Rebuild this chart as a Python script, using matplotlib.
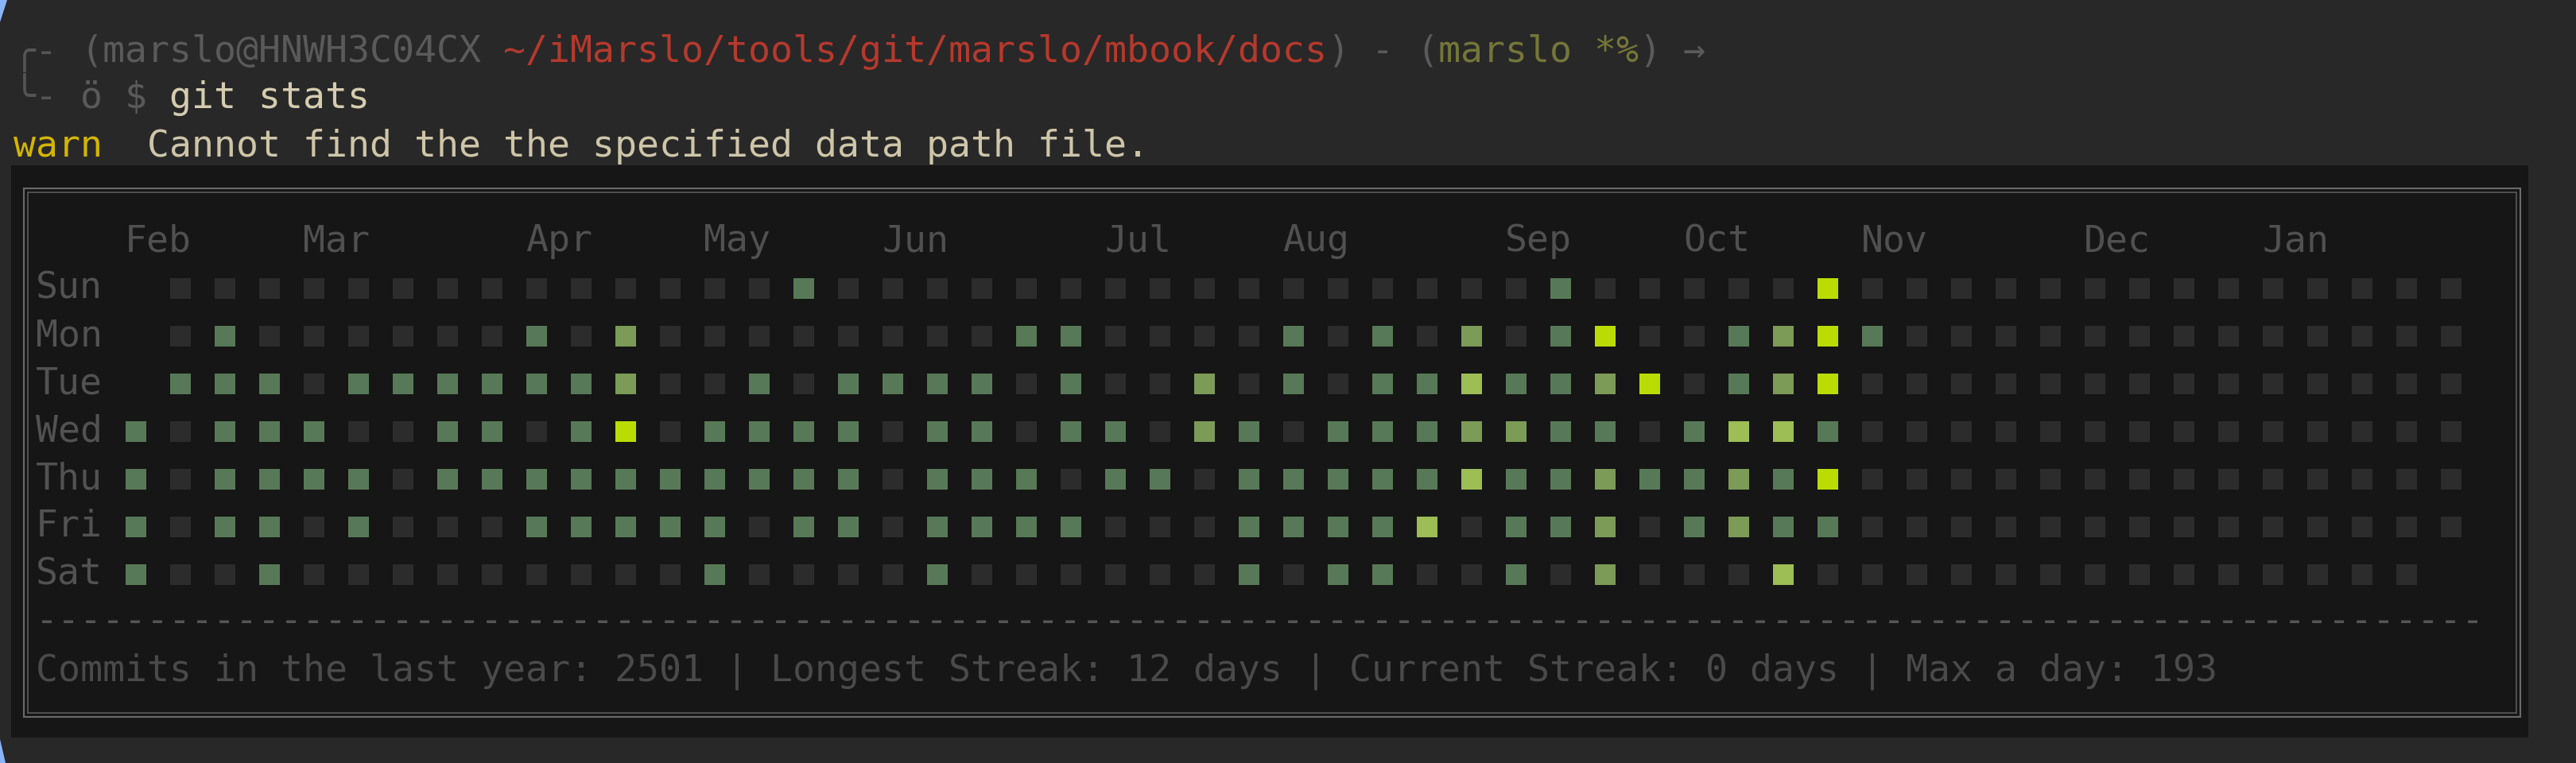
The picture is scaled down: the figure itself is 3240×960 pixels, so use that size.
import matplotlib.pyplot as plt
from matplotlib.patches import Rectangle, Polygon

# =========================
# 1. Datos: nivel de commits por semana (-1 = sin celda)
# =========================
weekdays = ['Sun', 'Mon', 'Tue', 'Wed', 'Thu', 'Fri', 'Sat']
months = ['Feb', 'Mar', 'Apr', 'May', 'Jun', 'Jul', 'Aug', 'Sep', 'Oct', 'Nov', 'Dec', 'Jan']
month_cols = [0, 4, 9, 13, 17, 22, 26, 31, 35, 39, 44, 48]

sun = [-1, 0, 0, 0, 0, 0, 0, 0, 0, 0, 0, 0, 0, 0, 0, 1, 0, 0, 0, 0, 0, 0, 0, 0, 0, 0,
       0, 0, 0, 0, 0, 0, 1, 0, 0, 0, 0, 0, 4, 0, 0, 0, 0, 0, 0, 0, 0, 0, 0, 0, 0, 0, 0]
mon = [-1, 0, 1, 0, 0, 0, 0, 0, 0, 1, 0, 2, 0, 0, 0, 0, 0, 0, 0, 0, 1, 1, 0, 0, 0, 0,
       1, 0, 1, 0, 2, 0, 1, 4, 0, 0, 1, 2, 4, 1, 0, 0, 0, 0, 0, 0, 0, 0, 0, 0, 0, 0, 0]
tue = [-1, 1, 1, 1, 0, 1, 1, 1, 1, 1, 1, 2, 0, 0, 1, 0, 1, 1, 1, 1, 0, 1, 0, 0, 2, 0,
       1, 0, 1, 1, 3, 1, 1, 2, 4, 0, 1, 2, 4, 0, 0, 0, 0, 0, 0, 0, 0, 0, 0, 0, 0, 0, 0]
wed = [1, 0, 1, 1, 1, 0, 0, 1, 1, 0, 1, 4, 0, 1, 1, 1, 1, 0, 1, 1, 0, 1, 1, 0, 2, 1,
       0, 1, 1, 1, 2, 2, 1, 1, 0, 1, 3, 3, 1, 0, 0, 0, 0, 0, 0, 0, 0, 0, 0, 0, 0, 0, 0]
thu = [1, 0, 1, 1, 1, 1, 0, 1, 1, 1, 1, 1, 1, 1, 1, 1, 1, 0, 1, 1, 1, 0, 1, 1, 0, 1,
       1, 1, 1, 1, 3, 1, 1, 2, 1, 1, 2, 1, 4, 0, 0, 0, 0, 0, 0, 0, 0, 0, 0, 0, 0, 0, 0]
fri = [1, 0, 1, 1, 0, 1, 0, 0, 0, 1, 1, 1, 1, 1, 0, 1, 1, 0, 1, 1, 1, 1, 0, 0, 0, 1,
       1, 1, 1, 3, 0, 1, 1, 2, 0, 1, 2, 1, 1, 0, 0, 0, 0, 0, 0, 0, 0, 0, 0, 0, 0, 0, 0]
sat = [1, 0, 0, 1, 0, 0, 0, 0, 0, 0, 0, 0, 0, 1, 0, 0, 0, 0, 1, 0, 0, 0, 0, 0, 0, 1,
       0, 1, 1, 0, 0, 1, 0, 2, 0, 0, 0, 3, 0, 0, 0, 0, 0, 0, 0, 0, 0, 0, 0, 0, 0, 0, -1]
grid = [sun, mon, tue, wed, thu, fri, sat]

level_colors = ['#2c2c2c', '#587957', '#7b9b56', '#9dbd55', '#bbdc03']

stats_line = ('Commits in the last year: 2501 | Longest Streak: 12 days | '
              'Current Streak: 0 days | Max a day: 193')

# =========================
# 2. Lienzo tipo terminal (coordenadas en pixeles)
# =========================
W, H = 3240, 960
fig = plt.figure(figsize=(W / 100, H / 100), dpi=100)
fig.patch.set_facecolor('#282828')

ax = fig.add_axes([0, 0, 1, 1])
ax.set_xlim(0, W)
ax.set_ylim(H, 0)
ax.axis('off')

MONO = 'DejaVu Sans Mono'
FS = 33.5   # 28 px por caracter
CW = 28
X0 = 17


def term(col, y, s, color):
    ax.text(X0 + col * CW, y, s, color=color, family=MONO, fontsize=FS,
            ha='left', va='baseline')


# esquinas azules de la ventana
ax.add_patch(Polygon([(0, 0), (9, 0), (0, 28)], closed=True, color='#8ab4f8', lw=0))
ax.add_patch(Polygon([(0, H), (7, H), (0, H - 30)], closed=True, color='#8ab4f8', lw=0))

# prompt
term(0, 78, '╭-', '#555555')
term(3, 78, '(marslo@HNWH3C04CX', '#5a5a5a')
term(22, 78, '~/iMarslo/tools/git/marslo/mbook/docs', '#b5392d')
term(59, 78, ')', '#5a5a5a')
term(61, 78, '-', '#5a5a5a')
term(63, 78, '(', '#5a5a5a')
term(64, 78, 'marslo *%', '#74763a')
term(73, 78, ')', '#5a5a5a')
term(75, 78, '→', '#5a5a5a')

term(0, 136, '╰-', '#555555')
term(3, 136, 'ö', '#5a5a5a')
term(5, 136, '$', '#5a5a5a')
term(7, 136, 'git stats', '#d5ccb0')

term(0, 197, 'warn', '#d4b500')
term(6, 197, 'Cannot find the the specified data path file.', '#cec5a8')

# panel oscuro y doble borde
ax.add_patch(Rectangle((14, 208), 3166, 720, color='#161616', lw=0))
ax.add_patch(Rectangle((30, 237), 3140, 665, fill=False, ec='#6a6a6a', lw=1.5))
ax.add_patch(Rectangle((35, 242), 3130, 655, fill=False, ec='#5a5a5a', lw=1.2))

term(1, 795, '-' * 110, '#555555')
term(1, 857, stats_line, '#4a4a4a')

# =========================
# 3. Mapa de calor de commits
# =========================
# columnas cada 56 px (centro 171), filas cada 60 px (centro 363)
axh = fig.add_axes([143 / W, 1 - 753 / H, 2968 / W, 420 / H])
axh.set_xlim(-0.5, 52.5)
axh.set_ylim(6.5, -0.5)
axh.axis('off')

xs, ys, cs = [], [], []
for r, row in enumerate(grid):
    for c, lvl in enumerate(row):
        if lvl >= 0:
            xs.append(c)
            ys.append(r)
            cs.append(level_colors[lvl])

cell_w = 26 / 56
cell_h = 26 / 60
axh.bar(xs, cell_h, width=cell_w, bottom=[y - cell_h / 2 for y in ys],
        color=cs, linewidth=0)

for m, c in zip(months, month_cols):
    axh.text(c - 0.25, -0.78, m, color='#505050', family=MONO, fontsize=FS,
             ha='left', va='baseline')

for r, d in enumerate(weekdays):
    axh.text(-2.25, r + 0.2, d, color='#525252', family=MONO, fontsize=FS,
             ha='left', va='baseline')

plt.savefig('out.png', dpi=100, facecolor=fig.get_facecolor())
plt.close()
